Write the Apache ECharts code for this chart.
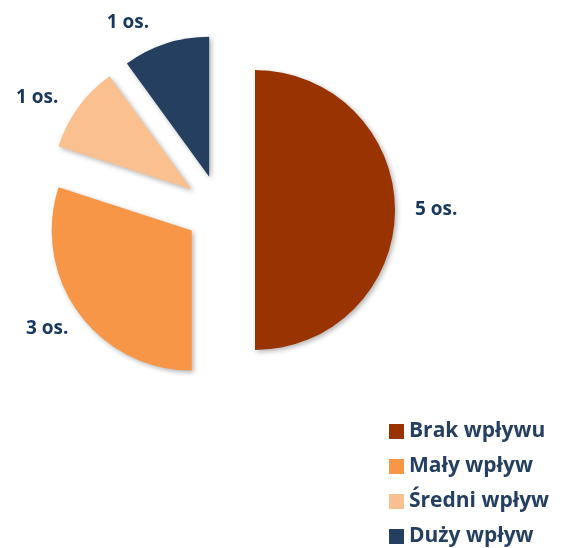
<!DOCTYPE html>
<html>
<head>
<meta charset="utf-8">
<script src="https://cdn.jsdelivr.net/npm/echarts@6/dist/echarts.min.js"></script>
<style>
  html, body { margin: 0; padding: 0; background: #fff; }
  #chart { width: 563px; height: 548px; }
</style>
</head>
<body>
<div id="chart"></div>
<script>
// data
const categories = ["Brak wpływu", "Mały wpływ", "Średni wpływ", "Duży wpływ"];
const counts = [5, 3, 1, 1];
const colors = ["#993300", "#F79646", "#FAC090", "#243F60"];
// label line lengths per slice (just spacing of labels)
const lineLen = [13, 26, 16, 22];
const lineLen2 = [2, -16, 2, 5];

const chart = echarts.init(document.getElementById("chart"));

const pieData = categories.map(function (name, i) {
  return {
    name: name,
    value: counts[i],
    selected: true,
    itemStyle: { color: colors[i] },
    labelLine: { show: false, length: lineLen[i], length2: lineLen2[i] }
  };
});

const option = {
  animation: false,
  legend: {
    orient: "vertical",
    left: 389,
    top: 421,
    padding: 0,
    itemWidth: 15,
    itemHeight: 15,
    itemGap: 14,
    icon: "rect",
    textStyle: {
      color: "#243F60",
      fontFamily: "Open Sans",
      fontWeight: "bold",
      fontSize: 21
    },
    data: categories
  },
  series: [
    {
      type: "pie",
      center: [220, 210],
      radius: 140,
      startAngle: 90,
      clockwise: true,
      selectedMode: "multiple",
      selectedOffset: 35,
      avoidLabelOverlap: false,
      itemStyle: {
        shadowBlur: 5,
        shadowColor: "rgba(0,0,0,0.3)",
        shadowOffsetX: 2,
        shadowOffsetY: 2
      },
      emphasis: { disabled: true },
      label: {
        show: true,
        position: "outside",
        formatter: "{c} os.",
        color: "#17375E",
        fontFamily: "Open Sans",
        fontWeight: "bold",
        fontSize: 19
      },
      labelLine: { show: false },
      data: pieData
    }
  ]
};

chart.setOption(option);
</script>
</body>
</html>
